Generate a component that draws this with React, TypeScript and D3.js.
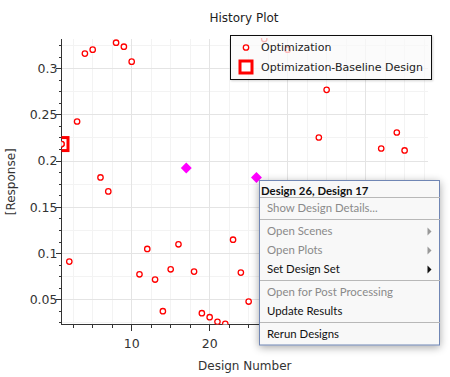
import React from "react";
import * as d3 from "d3";

const designNumbers = [1, 2, 3, 4, 5, 6, 7, 8, 9, 10, 11, 12, 13, 14, 15, 16, 18, 19, 20, 21, 22, 23, 24, 25, 27, 30, 34, 35, 42, 44, 45];
const responses = [0.2184, 0.0913, 0.2428, 0.3162, 0.3205, 0.1823, 0.1672, 0.328, 0.3237, 0.3075, 0.0776, 0.105, 0.0719, 0.0377, 0.083, 0.110, 0.0805, 0.0355, 0.0312, 0.0262, 0.0241, 0.115, 0.0794, 0.0481, 0.332, 0.3205, 0.2255, 0.277, 0.2136, 0.2309, 0.2115];
const baselineDesign = [1];
const baselineResponse = [0.2184];
const selectedDesigns = [17, 26];
const selectedResponses = [0.1925, 0.1823];
const xTickValues = [10, 20, 30, 40];
const xTickLabels = [10, 20];
const yTickValues = [0.05, 0.1, 0.15, 0.2, 0.25, 0.3];
const legendLabels = ["Optimization", "Optimization-Baseline Design"];
const menuHeader = "Design 26, Design 17";
const menuItems = [
  { label: "Show Design Details...", enabled: false, arrow: false, sepAfter: true },
  { label: "Open Scenes", enabled: false, arrow: true, sepAfter: false },
  { label: "Open Plots", enabled: false, arrow: true, sepAfter: false },
  { label: "Set Design Set", enabled: true, arrow: true, sepAfter: true },
  { label: "Open for Post Processing", enabled: false, arrow: false, sepAfter: false },
  { label: "Update Results", enabled: true, arrow: false, sepAfter: true },
  { label: "Rerun Designs", enabled: true, arrow: false, sepAfter: false },
];

const W = 450, H = 377;
const L = 61.5, R = 428, T = 39, B = 324.5;
const FONT = "DejaVu Sans, sans-serif";
const MENU_FONT = "Lato, sans-serif";

export default function App() {
  const x = d3.scaleLinear().domain([1, 48]).range([L, R]);
  const y = d3.scaleLinear().domain([0.0233, 0.332]).range([B, T]);

  const xMinorGrid = d3.range(2.5, 48, 2.5).filter((v) => v % 10 !== 0);
  const xMajor = d3.range(10, 48, 10);
  const yMinorGrid = d3.range(0.025, 0.332, 0.025).filter((v) => Math.abs(v / 0.05 - Math.round(v / 0.05)) > 0.01);
  const xMinorTicks = d3.range(2.5, 48, 2.5).filter((v) => v % 10 !== 0);
  const yMinorTicks = d3.range(0.025, 0.332, 0.0125).filter((v) => Math.abs(v / 0.05 - Math.round(v / 0.05)) > 0.01);

  const diamond = d3.symbol().type(d3.symbolDiamond2).size(76)();

  // menu geometry
  const mx = 259.5, my = 180.5, mw = 180, mh = 164.5;
  const rowH = 19;
  let cy = my + 28;
  const rows: { label: string; enabled: boolean; arrow: boolean; yc: number; sepY?: number }[] = [];
  menuItems.forEach((it) => {
    const yc = cy;
    let sepY: number | undefined;
    cy += rowH;
    if (it.sepAfter) {
      sepY = cy - 8;
      cy += 4;
    }
    rows.push({ ...it, yc, sepY });
  });

  return (
    <svg width={W} height={H} style={{ position: "absolute", left: 0, top: 0, background: "#fff" }} fontFamily={FONT}>
      <defs>
        <clipPath id="plotclip">
          <rect x={L} y={T - 1} width={R - L} height={B - T + 1} />
        </clipPath>
        <filter id="shadow" x="-20%" y="-20%" width="140%" height="140%">
          <feGaussianBlur in="SourceAlpha" stdDeviation="4" />
          <feOffset dx="0" dy="2" result="b" />
          <feComponentTransfer>
            <feFuncA type="linear" slope="0.35" />
          </feComponentTransfer>
          <feMerge>
            <feMergeNode />
            <feMergeNode in="SourceGraphic" />
          </feMerge>
        </filter>
        <filter id="lshadow" x="-10%" y="-10%" width="120%" height="140%">
          <feGaussianBlur in="SourceAlpha" stdDeviation="1" />
          <feOffset dx="1" dy="1" />
          <feComponentTransfer>
            <feFuncA type="linear" slope="0.2" />
          </feComponentTransfer>
          <feMerge>
            <feMergeNode />
            <feMergeNode in="SourceGraphic" />
          </feMerge>
        </filter>
      </defs>
      <rect x={0} y={0} width={W} height={H} fill="#fff" />

      {/* grid */}
      <g shapeRendering="crispEdges">
        {xMinorGrid.map((v) => (
          <line key={"xg" + v} x1={x(v)} x2={x(v)} y1={T} y2={B} stroke="#f3f3f3" />
        ))}
        {yMinorGrid.map((v) => (
          <line key={"yg" + v} x1={L} x2={R} y1={y(v)} y2={y(v)} stroke="#f3f3f3" />
        ))}
        {xMajor.map((v) => (
          <line key={"xM" + v} x1={x(v)} x2={x(v)} y1={T} y2={B} stroke="#e4e4e4" />
        ))}
        {yTickValues.map((v) => (
          <line key={"yM" + v} x1={L} x2={R} y1={y(v)} y2={y(v)} stroke="#e4e4e4" />
        ))}
      </g>

      {/* axes */}
      <g shapeRendering="crispEdges" stroke="#333">
        <line x1={L} x2={L} y1={T} y2={B} />
        <line x1={L} x2={R} y1={B} y2={B} />
        {yTickValues.map((v) => (
          <line key={"yt" + v} x1={L - 6} x2={L} y1={y(v)} y2={y(v)} />
        ))}
        {yMinorTicks.map((v) => (
          <line key={"ytm" + v} x1={L - 3} x2={L} y1={y(v)} y2={y(v)} />
        ))}
        {xTickValues.map((v) => (
          <line key={"xt" + v} x1={x(v)} x2={x(v)} y1={B} y2={B + 6} />
        ))}
        {xMinorTicks.map((v) => (
          <line key={"xtm" + v} x1={x(v)} x2={x(v)} y1={B} y2={B + 3} />
        ))}
      </g>
      <g fontSize={12.5} fill="#333">
        {yTickValues.map((v) => (
          <text key={"yl" + v} x={L - 4} y={y(v)} dy="0.35em" textAnchor="end">
            {d3.format("")(+v.toFixed(2))}
          </text>
        ))}
        {xTickLabels.map((v) => (
          <text key={"xl" + v} x={x(v)} y={B + 23} textAnchor="middle">
            {v}
          </text>
        ))}
      </g>
      <text x={(L + R) / 2} y={370} textAnchor="middle" fontSize={12} fill="#333">Design Number</text>
      <text transform={`translate(15,${(T + B) / 2}) rotate(-90)`} textAnchor="middle" fontSize={12} fill="#333">[Response]</text>
      <text x={244} y={22} textAnchor="middle" fontSize={12} fill="#222">History Plot</text>

      {/* points */}
      <g clipPath="url(#plotclip)">
        {designNumbers.map((d, i) => (
          <circle key={"p" + d} cx={x(d)} cy={y(responses[i])} r={2.7} fill="#fff" stroke="#ff0000" strokeWidth={1.3} />
        ))}
        {baselineDesign.map((d, i) => (
          <g key={"b" + d}>
            <rect x={x(d) - 6.5} y={y(baselineResponse[i]) - 6.5} width={13} height={13} fill="none" stroke="#ff0000" strokeWidth={3} />
            <circle cx={x(d)} cy={y(baselineResponse[i])} r={2.7} fill="#fff" stroke="#ff0000" strokeWidth={1.3} />
          </g>
        ))}
        {selectedDesigns.map((d, i) => (
          <path key={"s" + d} d={diamond!} transform={`translate(${x(d)},${y(selectedResponses[i])})`} fill="#ff00ff" />
        ))}
      </g>

      {/* legend */}
      <g filter="url(#lshadow)">
        <rect x={230.5} y={35.5} width={201} height={44} fill="#fff" fillOpacity={0.7} stroke="#111" />
      </g>
      <circle cx={246} cy={47.5} r={2.7} fill="#fff" stroke="#ff0000" strokeWidth={1.3} />
      <rect x={240} y={61} width={12} height={12} fill="#fff" stroke="#ff0000" strokeWidth={3} />
      <g fontSize={11} fill="#222">
        <text x={261} y={47.5} dy="0.35em">{legendLabels[0]}</text>
        <text x={261} y={67.5} dy="0.35em">{legendLabels[1]}</text>
      </g>

      {/* context menu */}
      <g filter="url(#shadow)">
        <rect x={mx} y={my} width={mw} height={mh} fill="#f8f8f8" stroke="#6f86b4" />
      </g>
      <g fontFamily={MENU_FONT}>
        <text x={mx + 1.5} y={my + 10.5} dy="0.35em" fontSize={11.4} fontWeight="bold" fill="#111">{menuHeader}</text>
        <line x1={mx} x2={mx + mw} y1={197.5} y2={197.5} stroke="#b8b8b8" shapeRendering="crispEdges" />
        {rows.map((r) => (
          <g key={r.label}>
            <text x={mx + 7.5} y={r.yc} dy="0.35em" fontSize={11.4} fill={r.enabled ? "#111" : "#8a8a8a"}>{r.label}</text>
            {r.arrow && (
              <path d={`M${mx + 168},${r.yc - 4} L${mx + 172},${r.yc} L${mx + 168},${r.yc + 4} Z`} fill={r.enabled ? "#111" : "#999"} />
            )}
            {r.sepY !== undefined && (
              <line x1={mx} x2={mx + mw} y1={r.sepY} y2={r.sepY} stroke="#b8b8b8" shapeRendering="crispEdges" />
            )}
          </g>
        ))}
      </g>
    </svg>
  );
}
